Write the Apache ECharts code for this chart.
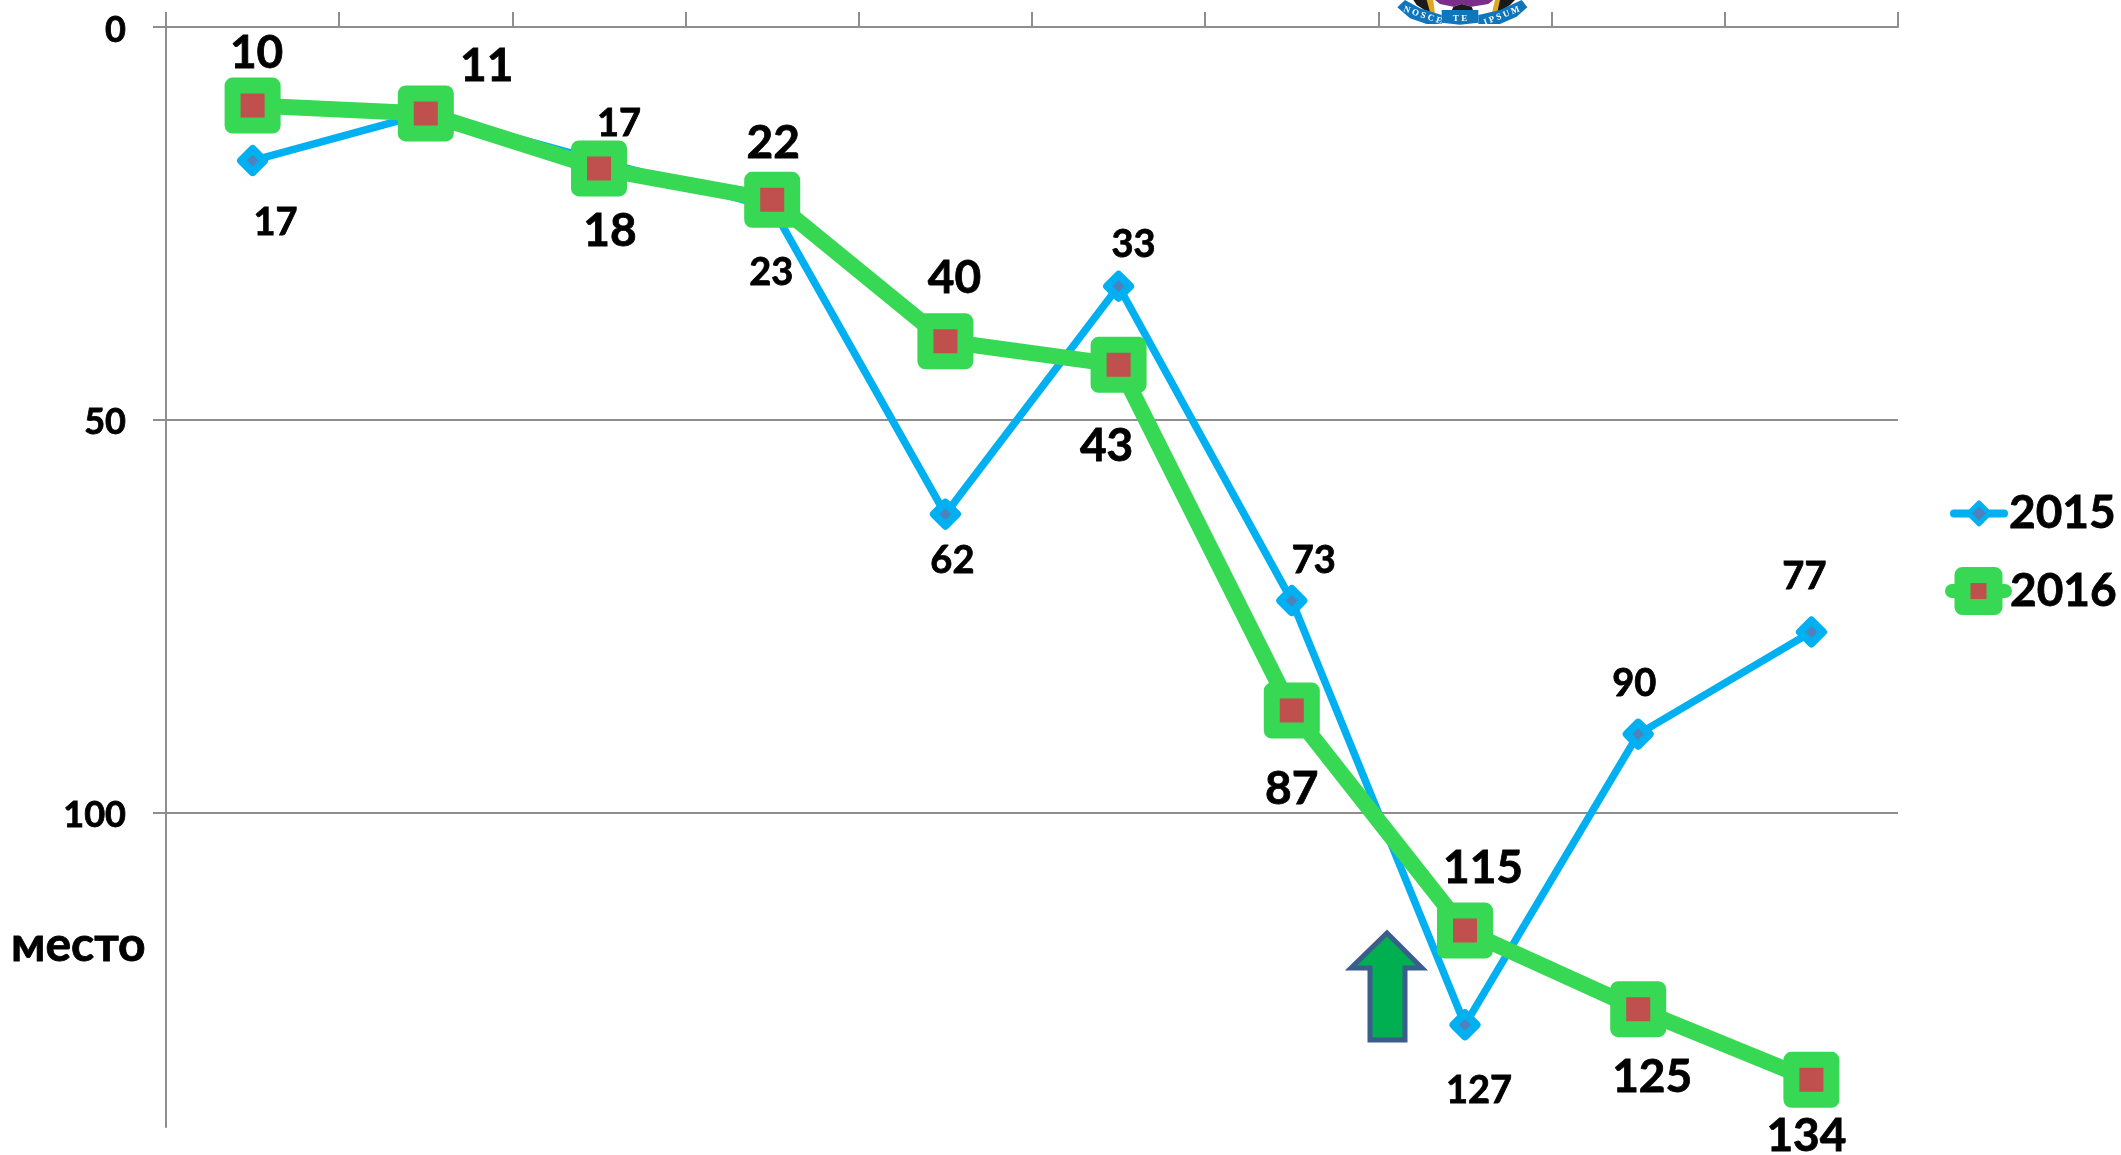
<!DOCTYPE html>
<html><head><meta charset="utf-8">
<style>html,body{margin:0;padding:0;background:#fff}#c{width:2121px;height:1155px}</style>
<script src="https://cdn.jsdelivr.net/npm/echarts@6/dist/echarts.min.js"></script>
</head><body><div id="c"></div>
<script>
const categories = ['1','2','3','4','5','6','7','8','9','10'];
const values2015 = [17,11,17,23,62,33,73,127,90,77];
const values2016 = [10,11,18,22,40,43,87,115,125,134];
const yTicks = [0,50,100];
const yAxisTitle = 'место';
const hidden2015 = [1];
const offsets2015 = [[23,62],[0,0],[20,-37],[-1,65],[7,47],[15,-42],[22,-40],[14,66],[-4,-50],[-7,-55]];
const offsets2016 = [[4,-52],[61,-47],[11,63],[1,-57],[9,-63],[-12,81],[0,79],[18,-62],[14,68],[-5,56]];

const FONT = 'Lato';
const AXIS = '#8e8e8e';
const chart = echarts.init(document.getElementById('c'), null, {renderer:'canvas'});
const z = (p)=>p.map(([x,y])=>[1390+x/3,y/3]);
const poly = (pts,fill,zz)=>({type:'polygon',shape:{points:z(pts)},style:{fill},z:zz||1,silent:true});
const word = (t,x,y,r)=>({type:'text',x:1390+x/3,y:y/3,rotation:r,style:{text:t,fill:'#fff',font:'bold 9px "Liberation Serif"',align:'center',verticalAlign:'middle'},z:3,silent:true});
function mk(vals,offs,hide,fontSize){
  return vals.map((v,i)=>({value:v,label:{show:!hide.includes(i),position:'inside',offset:offs[i],fontSize,fontWeight:'bold',fontFamily:FONT,color:'#000',textBorderColor:'#000',textBorderWidth:0.8}}));
}
const legendText = {fontSize:46,fontWeight:'bold',fontFamily:FONT,color:'#000',textBorderColor:'#000',textBorderWidth:0.8};
chart.setOption({
  animation:false,
  backgroundColor:'#fff',
  grid:{left:166,top:27,width:1732,height:1100,containLabel:false},
  xAxis:{type:'category',data:categories,position:'top',boundaryGap:true,
    axisLine:{show:true,lineStyle:{color:AXIS,width:2}},
    axisTick:{show:true,length:15,alignWithLabel:false,lineStyle:{color:AXIS,width:2}},
    axisLabel:{show:false},splitLine:{show:false}},
  yAxis:{type:'value',inverse:true,min:0,max:140,interval:50,
    axisLine:{show:true,lineStyle:{color:AXIS,width:2}},
    axisTick:{show:true,length:13,customValues:yTicks,lineStyle:{color:AXIS,width:2}},
    axisLabel:{margin:40,customValues:yTicks,formatter:(v)=>'{a|'+v+'}',
      rich:{a:{fontSize:36,fontWeight:'bold',fontFamily:FONT,color:'#000',textBorderColor:'#000',textBorderWidth:0.8,padding:[6,0,0,0]}}},
    splitLine:{show:true,lineStyle:{color:AXIS,width:2}}},
  legend:[
    {orient:'vertical',left:1950,top:490,padding:0,itemWidth:50,itemHeight:26,textStyle:legendText,
     data:[{name:'2015',lineStyle:{width:8,cap:'round',color:'#00b0f0'},itemStyle:{borderWidth:5,borderColor:'#00b0f0',color:'#4f81bd',borderJoin:'round'}}]},
    {orient:'vertical',left:1945,top:567,padding:0,itemWidth:53,itemHeight:40,textStyle:legendText,
     data:[{name:'2016',lineStyle:{width:14,cap:'round',color:'#37d853'},itemStyle:{borderWidth:16,borderColor:'#37d853',color:'#c0504d',borderJoin:'round'}}]}
  ],
  series:[
   {name:'2015',type:'line',data:mk(values2015,offsets2015,hidden2015,38),z:2,
    symbol:'diamond',symbolSize:23,
    lineStyle:{color:'#00b0f0',width:7.5,cap:'round',join:'round'},
    itemStyle:{color:'#4f81bd',borderColor:'#00b0f0',borderWidth:8,borderJoin:'round'}},
   {name:'2016',type:'line',data:mk(values2016,offsets2016,[],46),z:3,
    symbol:'rect',symbolSize:40,
    lineStyle:{color:'#37d853',width:16,cap:'round',join:'round'},
    itemStyle:{color:'#c0504d',borderColor:'#37d853',borderWidth:16,borderJoin:'round'}}
  ],
  graphic:[
    {type:'text',x:11,y:946,style:{text:yAxisTitle,fill:'#000',font:'bold 48px '+FONT,verticalAlign:'middle',stroke:'#000',lineWidth:0.8},z:5,silent:true},
    {type:'polygon',shape:{points:[[1387,933],[1422,968],[1405,968],[1405,1040],[1370,1040],[1370,968],[1351,968]]},
      style:{fill:'#00b050',stroke:'#3b5d8c',lineWidth:5},z:5,silent:true},
    poly([[135,0],[310,0],[295,12],[245,20],[215,12],[190,20],[150,12]],'#7b2d8b'),
    poly([[190,20],[215,12],[245,20],[250,32],[185,32]],'#1a1a1a'),
    poly([[70,0],[125,0],[130,40],[100,28],[80,15]],'#1a1a1a'),
    poly([[110,0],[130,0],[135,42],[120,35]],'#e0a820',2),
    poly([[320,0],[375,0],[360,15],[340,28],[310,42]],'#1a1a1a'),
    poly([[315,0],[330,0],[322,35],[305,42]],'#e0a820',2),
    poly([[22,22],[45,0],[90,25],[155,45],[155,72],[110,72],[60,55]],'#0f76bc',2),
    poly([[155,30],[265,30],[265,68],[210,74],[155,68]],'#0f76bc',2),
    poly([[265,45],[330,30],[395,0],[412,22],[380,50],[330,72],[265,72]],'#0f76bc',2),
    word('N O S C E',98,46,-0.33),word('T E',210,55,0),word('I P S U M',335,48,0.38)
  ]
});
</script></body></html>
